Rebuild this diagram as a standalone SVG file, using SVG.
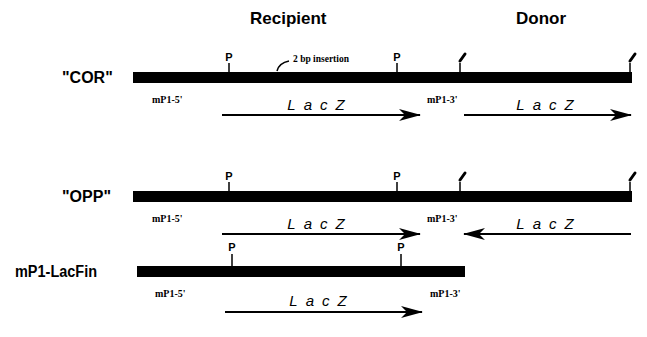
<svg xmlns="http://www.w3.org/2000/svg" width="647" height="337" viewBox="0 0 647 337">
<defs>
<style>
.hdr{font-family:"Liberation Sans",Arial,sans-serif;font-weight:bold;font-size:17px;fill:#000}
.lbl{font-family:"Liberation Sans",Arial,sans-serif;font-weight:bold;font-size:16px;fill:#000}
.p{font-family:"Liberation Sans",Arial,sans-serif;font-weight:bold;font-size:11px;fill:#000;text-anchor:middle}
.mp{font-family:"Liberation Serif","Times New Roman",serif;font-weight:bold;font-size:10px;fill:#000}
.ins{font-family:"Liberation Serif","Times New Roman",serif;font-weight:bold;font-size:9.5px;fill:#000}
.lacz{font-family:"Liberation Sans",Arial,sans-serif;font-style:italic;font-size:15px;fill:#000;text-anchor:middle;letter-spacing:8px}
.bar{fill:#000}
.tick{stroke:#000;stroke-width:1.5;fill:none}
.pin{stroke:#000;stroke-width:3;fill:none;stroke-linecap:round}
.arr{stroke:#000;stroke-width:1.8;fill:none}
</style>
<marker id="ah" viewBox="0 0 22 12" refX="21" refY="6" markerWidth="22" markerHeight="12" markerUnits="userSpaceOnUse" orient="auto-start-reverse">
<path d="M0,0 L22,6 L0,12 L6,6 Z" fill="#000"/>
</marker>
</defs>
<rect width="647" height="337" fill="#fff"/>
<text class="hdr" x="250" y="24">Recipient</text>
<text class="hdr" x="516" y="24">Donor</text>

<g id="cor">
<text class="lbl" x="62" y="83">"COR"</text>
<rect class="bar" x="133" y="72" width="499" height="11"/>
<line class="tick" x1="229" y1="63" x2="229" y2="72"/>
<text class="p" x="229" y="61">P</text>
<line class="tick" x1="397" y1="63" x2="397" y2="72"/>
<text class="p" x="397" y="61">P</text>
<line class="tick" x1="460" y1="63" x2="460" y2="72"/>
<path class="pin" d="M460,61 L465,54"/>
<line class="tick" x1="630" y1="63" x2="630" y2="72"/>
<path class="pin" d="M630,61 L635,54"/>
<path class="tick" d="M277,71 Q279,63 289,61"/>
<text class="ins" x="293" y="62">2 bp insertion</text>
<text class="mp" x="152" y="103">mP1-5'</text>
<text class="mp" x="427" y="103">mP1-3'</text>
<text class="lacz" x="320" y="110">LacZ</text>
<text class="lacz" x="549" y="110">LacZ</text>
</g>

<g id="opp">
<text class="lbl" x="62" y="202">"OPP"</text>
<rect class="bar" x="133" y="191" width="499" height="11"/>
<line class="tick" x1="229" y1="182" x2="229" y2="191"/>
<text class="p" x="229" y="180">P</text>
<line class="tick" x1="397" y1="182" x2="397" y2="191"/>
<text class="p" x="397" y="180">P</text>
<line class="tick" x1="460" y1="182" x2="460" y2="191"/>
<path class="pin" d="M460,180 L465,173"/>
<line class="tick" x1="630" y1="182" x2="630" y2="191"/>
<path class="pin" d="M630,180 L635,173"/>
<text class="mp" x="152" y="222">mP1-5'</text>
<text class="mp" x="427" y="222">mP1-3'</text>
<text class="lacz" x="320" y="229">LacZ</text>
<text class="lacz" x="549" y="229">LacZ</text>
</g>

<g id="lacfin">
<text class="lbl" x="15" y="277" textLength="82" lengthAdjust="spacingAndGlyphs">mP1-LacFin</text>
<rect class="bar" x="137" y="266" width="328" height="11"/>
<line class="tick" x1="232" y1="254" x2="232" y2="266"/>
<text class="p" x="232" y="251">P</text>
<line class="tick" x1="401" y1="254" x2="401" y2="266"/>
<text class="p" x="401" y="251">P</text>
<text class="mp" x="155" y="297">mP1-5'</text>
<text class="mp" x="430" y="297">mP1-3'</text>
<text class="lacz" x="322" y="306">LacZ</text>
</g>

<g id="connectors">
<line class="arr" x1="222" y1="115" x2="420" y2="115" marker-end="url(#ah)"/>
<line class="arr" x1="464" y1="115" x2="631" y2="115" marker-end="url(#ah)"/>
<line class="arr" x1="222" y1="234" x2="420" y2="234" marker-end="url(#ah)"/>
<line class="arr" x1="631" y1="234" x2="464" y2="234" marker-end="url(#ah)"/>
<line class="arr" x1="225" y1="312" x2="422" y2="312" marker-end="url(#ah)"/>
</g>
</svg>
